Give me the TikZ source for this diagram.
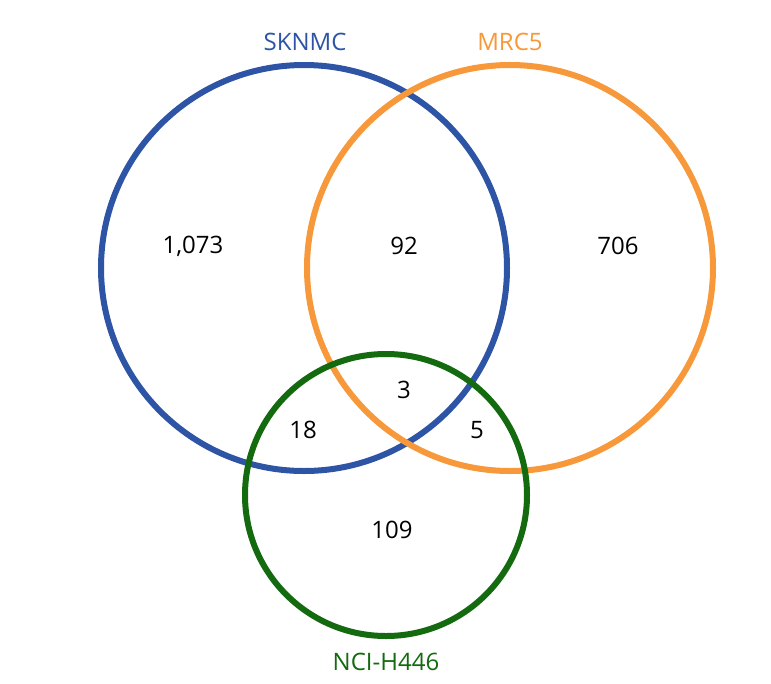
\documentclass[tikz,border=0pt]{standalone}
\usepackage{fontspec}
\setmainfont{Open Sans}
\definecolor{cblue}{HTML}{2E55A5}
\definecolor{corange}{HTML}{F7983A}
\definecolor{cgreen}{HTML}{146A0E}
\begin{document}
\begin{tikzpicture}[x=1pt,y=-1pt,
  ring/.style={line width=6pt},
  num/.style={font=\fontsize{24}{28}\selectfont, text=black},
  lab/.style={font=\fontsize{24}{28}\selectfont}]
\useasboundingbox[fill=white] (0,0) rectangle (771,683);
\draw[ring,cblue] (304,268) circle[radius=203];
\draw[ring,corange] (510,268) circle[radius=203];
\draw[ring,cgreen] (386,495) circle[radius=141];
\node[lab,text=cblue] (l1) at (305,42) {SKNMC};
\node[lab,text=corange] (l2) at (510,42) {MRC5};
\node[lab,text=cgreen] (l3) at (386,662) {NCI-H446};
\node[num] (a) at (193,246) {1,073};
\node[num] (b) at (404,246) {92};
\node[num] (c) at (618,246) {706};
\node[num] (d) at (404,390) {3};
\node[num] (e) at (303,430) {18};
\node[num] (f) at (477,430) {5};
\node[num] (g) at (392,530) {109};
\end{tikzpicture}
\end{document}
